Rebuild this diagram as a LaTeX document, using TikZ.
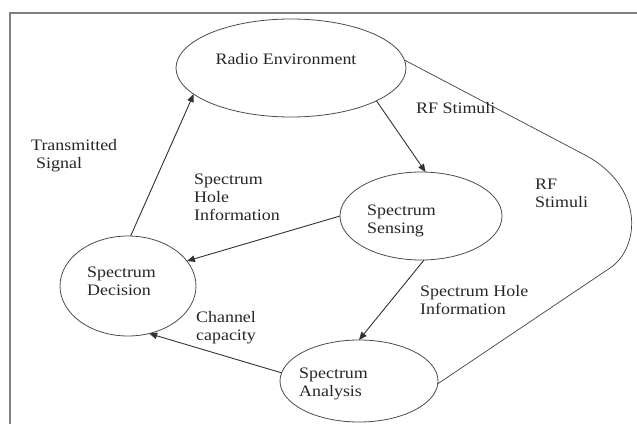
\documentclass[tikz,border=0pt]{standalone}
\usepackage{fontspec}
\setmainfont[FakeStretch=1.12]{Liberation Serif}
\usetikzlibrary{shapes.geometric,arrows.meta}
\begin{document}
\begin{tikzpicture}[x=1pt,y=-1pt,
  state/.style={draw=black!70, line width=0.8pt, ellipse, inner sep=0pt, outer sep=0pt},
  lbl/.style={anchor=west, align=left, inner sep=0pt, font=\fontsize{16}{18}\selectfont, text=black!85},
  conn/.style={draw=black!80, line width=0.9pt, -{Triangle[length=8pt,width=6.5pt]}},
  plainline/.style={draw=black!75, line width=0.7pt},
  framestyle/.style={draw=black!50, line width=1.6pt}]
\useasboundingbox (0,0) rectangle (637,423);
\fill[white] (0,0) rectangle (637,423);
% frame
\coordinate (fbl) at (10,424);
\coordinate (ftl) at (10,13);
\coordinate (ftr) at (638,13);
\draw[framestyle] (fbl) -- (ftl) -- (ftr);

% states
\node[state, minimum width=230pt, minimum height=98pt] (re) at (291,68) {};
\node[state, minimum width=162pt, minimum height=88pt] (ss) at (421,216) {};
\node[state, minimum width=136pt, minimum height=100pt] (sd) at (128,286) {};
\node[state, minimum width=158pt, minimum height=82pt] (sa) at (359,381) {};

% state texts
\node[lbl, anchor=center] (ret) at (286,59) {Radio Environment};
\node[lbl] (sst) at (367,220.5) {Spectrum\\Sensing};
\node[lbl] (sdt) at (87,281.5) {Spectrum\\Decision};
\node[lbl] (sat) at (299,384) {Spectrum\\Analysis};

% connectors
\draw[conn] (sd.87.7) -- (re.195);
\draw[conn] (re.-21.6) -- (ss.84.8);
\draw[conn] (ss.180.7) -- (sd.23.7);
\draw[conn] (ss.-86) -- (sa.90);
\draw[conn] (sa.174) -- (sd.-66.7);
\draw[plainline] (re.4) -- (585,155) .. controls (645,187) and (640,248) .. (610,268) -- (sa.-2);

% labels
\node[lbl] (l1) at (416,108) {RF Stimuli};
\node[lbl] (l2) at (31,155.5) {Transmitted\\\hspace*{5pt}Signal};
\node[lbl] (l3) at (194,197) {Spectrum\\Hole\\Information};
\node[lbl] (l4) at (535,193) {RF\\Stimuli};
\node[lbl] (l5) at (420,300) {Spectrum Hole\\Information};
\node[lbl] (l6) at (196,327.5) {Channel\\capacity};
\end{tikzpicture}
\end{document}
